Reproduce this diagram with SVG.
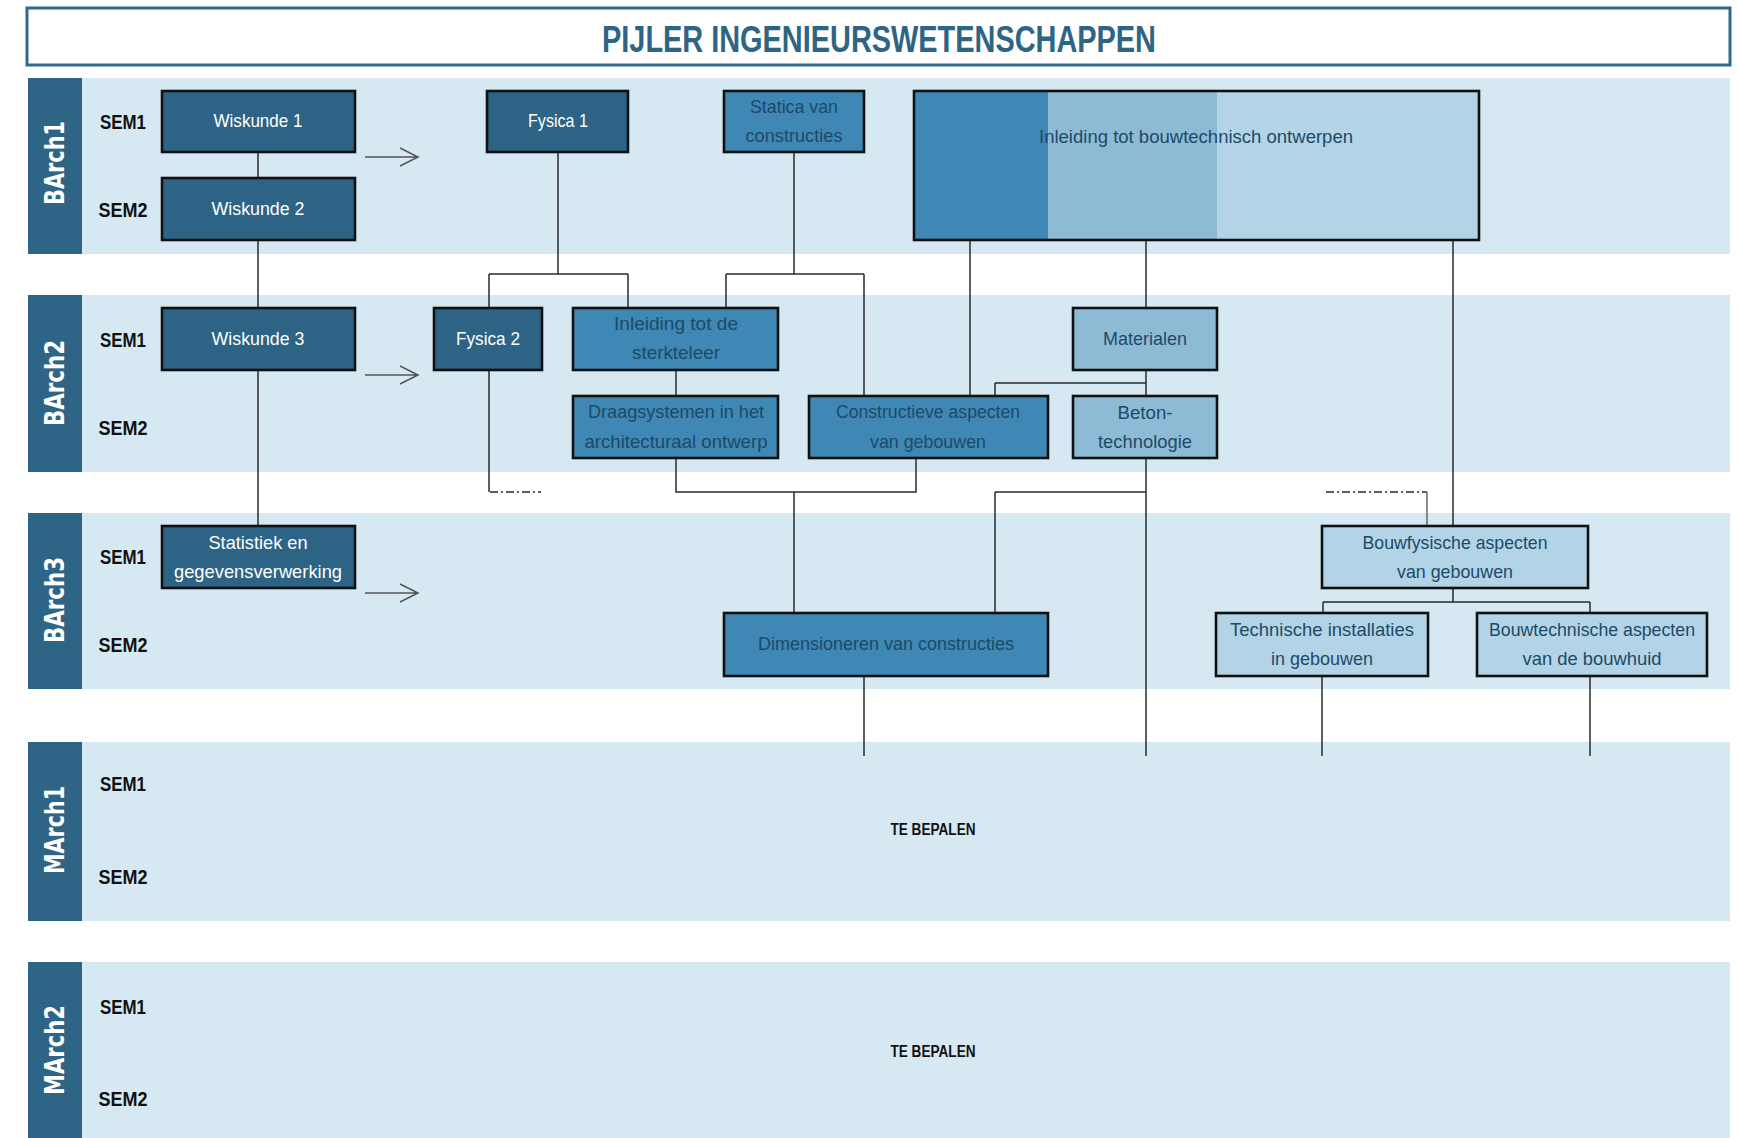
<svg xmlns="http://www.w3.org/2000/svg" width="1738" height="1138" viewBox="0 0 1738 1138">
<style>
.band{fill:#d6e8f1}
.strip{fill:#2e6485}
.yr{font-family:"DejaVu Sans",Verdana,sans-serif;font-weight:bold;font-size:27px;fill:#ffffff;text-anchor:middle}
.sem{font-family:"Liberation Sans Narrow","Liberation Sans",Arial,sans-serif;font-weight:bold;font-size:21px;fill:#111111;text-anchor:middle}
.tb{font-family:"Liberation Sans Narrow","Liberation Sans",Arial,sans-serif;font-weight:bold;font-size:16px;fill:#111111;text-anchor:middle}
.n rect{stroke:#111111;stroke-width:2.6}
.d rect{fill:#2d6384}
.m rect{fill:#3f87b4}
.l rect{fill:#8dbbd6}
.x rect{fill:#b3d4e6}
.big .p{stroke:none}
.big .p1{fill:#3f87b4}
.big .p2{fill:#8dbbd6}
.big .p3{fill:#b3d4e6}
.big .o{fill:none;stroke:#111111;stroke-width:2.6}
.t{font-family:"Liberation Sans Narrow","Liberation Sans",Arial,sans-serif;font-size:19px;text-anchor:middle;fill:#1d4a68}
.d .t{fill:#ffffff}
.c path{fill:none;stroke:#2a2a2a;stroke-width:1.5}
.c .dd{stroke-dasharray:8,3,2,3}
.c .g{stroke:#666666}
.arr path{fill:none;stroke:#555555;stroke-width:1.5}
</style>

<g id="title">
<rect x="27" y="8" width="1703" height="57" fill="#ffffff" stroke="#2f6a8a" stroke-width="3"/>
<text x="879" y="52" font-family="Liberation Sans Narrow,Liberation Sans,Arial,sans-serif" font-size="37" font-weight="bold" fill="#2e6585" text-anchor="middle" textLength="554" lengthAdjust="spacingAndGlyphs">PIJLER INGENIEURSWETENSCHAPPEN</text>
</g>

<g id="bands">
<rect class="band" x="82" y="78" width="1648" height="176"/>
<rect class="strip" x="28" y="78" width="54" height="176"/>
<rect class="band" x="82" y="295" width="1648" height="177"/>
<rect class="strip" x="28" y="295" width="54" height="177"/>
<rect class="band" x="82" y="513" width="1648" height="176"/>
<rect class="strip" x="28" y="513" width="54" height="176"/>
<rect class="band" x="82" y="742" width="1648" height="179"/>
<rect class="strip" x="28" y="742" width="54" height="179"/>
<rect class="band" x="82" y="962" width="1648" height="176"/>
<rect class="strip" x="28" y="962" width="54" height="176"/>
<text class="yr" transform="translate(64,163) rotate(-90)" textLength="84" lengthAdjust="spacingAndGlyphs">BArch1</text>
<text class="yr" transform="translate(64,383) rotate(-90)" textLength="86" lengthAdjust="spacingAndGlyphs">BArch2</text>
<text class="yr" transform="translate(64,600) rotate(-90)" textLength="86" lengthAdjust="spacingAndGlyphs">BArch3</text>
<text class="yr" transform="translate(64,830) rotate(-90)" textLength="88" lengthAdjust="spacingAndGlyphs">MArch1</text>
<text class="yr" transform="translate(64,1050) rotate(-90)" textLength="90" lengthAdjust="spacingAndGlyphs">MArch2</text>
<text class="sem" x="123" y="129" textLength="46" lengthAdjust="spacingAndGlyphs">SEM1</text>
<text class="sem" x="123" y="217" textLength="49" lengthAdjust="spacingAndGlyphs">SEM2</text>
<text class="sem" x="123" y="347" textLength="46" lengthAdjust="spacingAndGlyphs">SEM1</text>
<text class="sem" x="123" y="435" textLength="49" lengthAdjust="spacingAndGlyphs">SEM2</text>
<text class="sem" x="123" y="564" textLength="46" lengthAdjust="spacingAndGlyphs">SEM1</text>
<text class="sem" x="123" y="652" textLength="49" lengthAdjust="spacingAndGlyphs">SEM2</text>
<text class="sem" x="123" y="791" textLength="46" lengthAdjust="spacingAndGlyphs">SEM1</text>
<text class="sem" x="123" y="884" textLength="49" lengthAdjust="spacingAndGlyphs">SEM2</text>
<text class="sem" x="123" y="1014" textLength="46" lengthAdjust="spacingAndGlyphs">SEM1</text>
<text class="sem" x="123" y="1106" textLength="49" lengthAdjust="spacingAndGlyphs">SEM2</text>
<text class="tb" x="933" y="835" textLength="85" lengthAdjust="spacingAndGlyphs">TE BEPALEN</text>
<text class="tb" x="933" y="1057" textLength="85" lengthAdjust="spacingAndGlyphs">TE BEPALEN</text>
</g>

<g id="arrows" class="arr">
<path d="M365 157 H417 M400 148 L418 157 L400 166"/>
<path d="M365 375 H417 M400 366 L418 375 L400 384"/>
<path d="M365 593 H417 M400 584 L418 593 L400 602"/>
</g>

<g id="connectors" class="c">
<path d="M258 152 V178"/>
<path d="M258 240 V308"/>
<path d="M258 370 V526"/>
<path d="M558 152 V274 M489 274 H628 M489 274 V308 M628 274 V308"/>
<path d="M794 152 V274 M726 274 H864 M726 274 V308 M864 274 V396"/>
<path d="M676 370 V396"/>
<path d="M489 370 V492"/>
<path class="dd" d="M490 492 H541"/>
<path d="M676 458 V492 H916 V458 M794 492 V613"/>
<path d="M970 240 V396"/>
<path d="M1146 240 V308"/>
<path d="M1146 370 V396 M995 383 H1146 M995 383 V396"/>
<path d="M1146 458 V756 M995 492 H1146 M995 492 V613"/>
<path d="M864 676 V756"/>
<path d="M1453 240 V526"/>
<path class="dd" d="M1326 492 H1427"/>
<path class="g" d="M1427 492 V526"/>
<path d="M1453 588 V602 M1323 602 H1590 M1323 602 V613 M1590 602 V613"/>
<path d="M1322 676 V756 M1590 676 V756"/>
</g>

<g id="wiskunde1" class="n d"><rect x="162" y="91" width="193" height="61"/><text class="t" x="258" y="127" textLength="89" lengthAdjust="spacingAndGlyphs">Wiskunde 1</text></g>
<g id="wiskunde2" class="n d"><rect x="162" y="178" width="193" height="62"/><text class="t" x="258" y="215" textLength="93" lengthAdjust="spacingAndGlyphs">Wiskunde 2</text></g>
<g id="wiskunde3" class="n d"><rect x="162" y="308" width="193" height="62"/><text class="t" x="258" y="345" textLength="93" lengthAdjust="spacingAndGlyphs">Wiskunde 3</text></g>
<g id="fysica1" class="n d"><rect x="487" y="91" width="141" height="61"/><text class="t" x="558" y="127" textLength="60" lengthAdjust="spacingAndGlyphs">Fysica 1</text></g>
<g id="statica" class="n m"><rect x="724" y="91" width="140" height="61"/><text class="t" x="794" y="113" textLength="88" lengthAdjust="spacingAndGlyphs">Statica van</text><text class="t" x="794" y="142" textLength="97" lengthAdjust="spacingAndGlyphs">constructies</text></g>
<g id="bouwtechnisch-ontwerpen" class="big">
<rect class="p p3" x="914" y="91" width="565" height="149"/>
<rect class="p p1" x="914" y="91" width="134" height="149"/>
<rect class="p p2" x="1048" y="91" width="169" height="149"/>
<rect class="o" x="914" y="91" width="565" height="149"/>
<text class="t" x="1196" y="143" textLength="314" lengthAdjust="spacingAndGlyphs">Inleiding tot bouwtechnisch ontwerpen</text>
</g>
<g id="fysica2" class="n d"><rect x="434" y="308" width="108" height="62"/><text class="t" x="488" y="345" textLength="64" lengthAdjust="spacingAndGlyphs">Fysica 2</text></g>
<g id="sterkteleer" class="n m"><rect x="573" y="308" width="205" height="62"/><text class="t" x="676" y="330" textLength="124" lengthAdjust="spacingAndGlyphs">Inleiding tot de</text><text class="t" x="676" y="359" textLength="88" lengthAdjust="spacingAndGlyphs">sterkteleer</text></g>
<g id="materialen" class="n l"><rect x="1073" y="308" width="144" height="62"/><text class="t" x="1145" y="345" textLength="84" lengthAdjust="spacingAndGlyphs">Materialen</text></g>
<g id="draagsystemen" class="n m"><rect x="573" y="396" width="205" height="62"/><text class="t" x="676" y="418" textLength="176" lengthAdjust="spacingAndGlyphs">Draagsystemen in het</text><text class="t" x="676" y="448" textLength="183" lengthAdjust="spacingAndGlyphs">architecturaal ontwerp</text></g>
<g id="constructieve" class="n m"><rect x="809" y="396" width="239" height="62"/><text class="t" x="928" y="418" textLength="184" lengthAdjust="spacingAndGlyphs">Constructieve aspecten</text><text class="t" x="928" y="448" textLength="116" lengthAdjust="spacingAndGlyphs">van gebouwen</text></g>
<g id="betontechnologie" class="n l"><rect x="1073" y="396" width="144" height="62"/><text class="t" x="1145" y="419" textLength="55" lengthAdjust="spacingAndGlyphs">Beton-</text><text class="t" x="1145" y="448" textLength="94" lengthAdjust="spacingAndGlyphs">technologie</text></g>
<g id="statistiek" class="n d"><rect x="162" y="526" width="193" height="62"/><text class="t" x="258" y="549" textLength="99" lengthAdjust="spacingAndGlyphs">Statistiek en</text><text class="t" x="258" y="578" textLength="168" lengthAdjust="spacingAndGlyphs">gegevensverwerking</text></g>
<g id="bouwfysische" class="n x"><rect x="1322" y="526" width="266" height="62"/><text class="t" x="1455" y="549" textLength="185" lengthAdjust="spacingAndGlyphs">Bouwfysische aspecten</text><text class="t" x="1455" y="578" textLength="116" lengthAdjust="spacingAndGlyphs">van gebouwen</text></g>
<g id="dimensioneren" class="n m"><rect x="724" y="613" width="324" height="63"/><text class="t" x="886" y="650" textLength="256" lengthAdjust="spacingAndGlyphs">Dimensioneren van constructies</text></g>
<g id="technische-installaties" class="n x"><rect x="1216" y="613" width="212" height="63"/><text class="t" x="1322" y="636" textLength="184" lengthAdjust="spacingAndGlyphs">Technische installaties</text><text class="t" x="1322" y="665" textLength="102" lengthAdjust="spacingAndGlyphs">in gebouwen</text></g>
<g id="bouwhuid" class="n x"><rect x="1477" y="613" width="230" height="63"/><text class="t" x="1592" y="636" textLength="206" lengthAdjust="spacingAndGlyphs">Bouwtechnische aspecten</text><text class="t" x="1592" y="665" textLength="139" lengthAdjust="spacingAndGlyphs">van de bouwhuid</text></g>
</svg>
